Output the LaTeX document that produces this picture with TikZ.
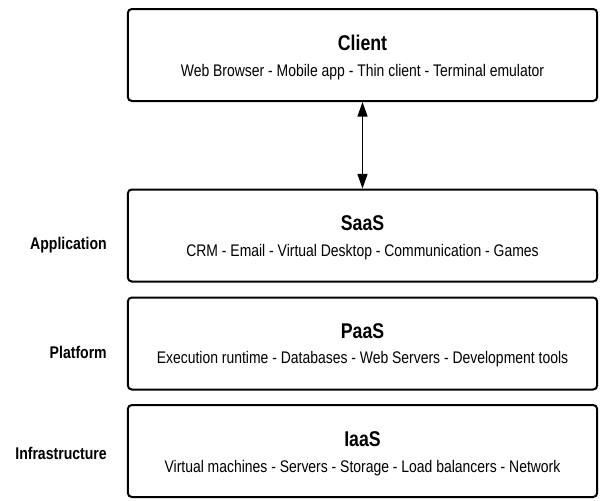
\documentclass[tikz,border=0pt]{standalone}
\usepackage{fontspec}
\setmainfont{Liberation Sans}[FakeStretch=0.83]
\usetikzlibrary{arrows.meta}
\begin{document}
\begin{tikzpicture}[x=0.75pt,y=-0.75pt,
  layerbox/.style={draw=black,line width=1.5pt,rounded corners=3pt,minimum width=352pt,minimum height=69pt,inner sep=0pt,fill=white},
  boxtitle/.style={font=\fontsize{16}{18}\selectfont\bfseries,inner sep=0pt},
  boxsub/.style={font=\fontsize{12.6}{14}\selectfont,inner sep=0pt},
  sidelabel/.style={font=\fontsize{12.7}{14}\selectfont\bfseries,inner sep=0pt,anchor=east}]
\useasboundingbox (0,0) rectangle (600,500);
\node[layerbox] (client) at (362.5,55) {};
\node[layerbox] (saas) at (362.5,235.5) {};
\node[layerbox] (paas) at (362.5,343.5) {};
\node[layerbox] (iaas) at (362.5,451) {};
\node[boxtitle] (clientT) at (362.5,43) {Client};
\node[boxsub] (clientS) at (362.5,72) {Web Browser - Mobile app - Thin client - Terminal emulator};
\node[boxtitle] (saasT) at (362.5,223) {SaaS};
\node[boxsub] (saasS) at (362.5,252) {CRM - Email - Virtual Desktop - Communication - Games};
\node[boxtitle] (paasT) at (362.5,331) {PaaS};
\node[boxsub] (paasS) at (362.5,359) {Execution runtime - Databases - Web Servers - Development tools};
\node[boxtitle] (iaasT) at (362.5,439) {IaaS};
\node[boxsub] (iaasS) at (362.5,468) {Virtual machines - Servers - Storage - Load balancers - Network};
\node[sidelabel] (app) at (107,245) {Application};
\node[sidelabel] (plat) at (107,352) {Platform};
\node[sidelabel] (infra) at (107,453) {Infrastructure};
\draw[line width=1.1pt,{Triangle[length=11pt,width=7.5pt]}-{Triangle[length=11pt,width=7.5pt]}] (client.south) -- (saas.north);
\end{tikzpicture}
\end{document}
